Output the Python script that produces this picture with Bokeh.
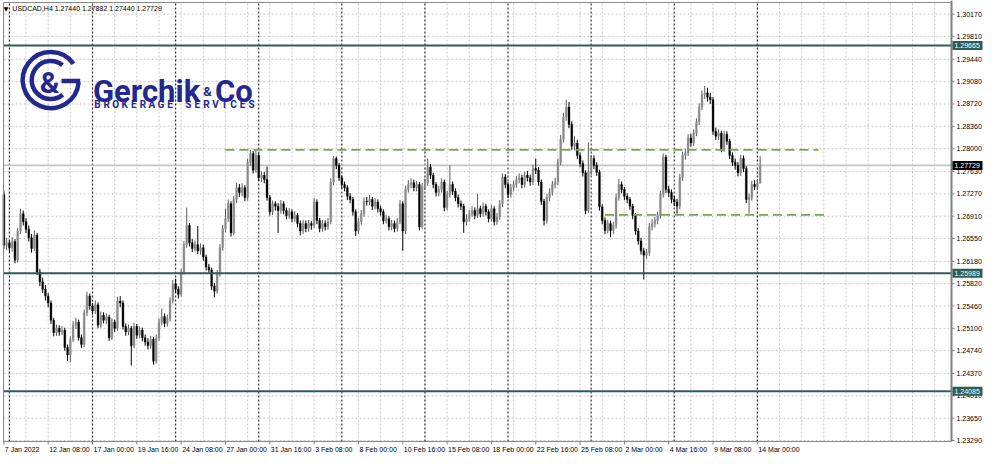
from bokeh.plotting import figure
from bokeh.models import Range1d, ColumnDataSource
from bokeh.embed import file_html
from bokeh.resources import INLINE
from bokeh.core.properties import value

# ---------------- data (USDCAD, H4) ----------------
symbol = "USDCAD,H4"
first_open = 1.2726
closes = [
    1.2644, 1.2648, 1.2640, 1.2650, 1.2620, 1.2667, 1.2695, 1.2682, 1.2670, 1.2656,
    1.2639, 1.2660, 1.2601, 1.2585, 1.2573, 1.2562, 1.2551, 1.2523, 1.2503, 1.2510,
    1.2504, 1.2507, 1.2479, 1.2467, 1.2492, 1.2515, 1.2520, 1.2495, 1.2484, 1.2535,
    1.2562, 1.2546, 1.2538, 1.2548, 1.2515, 1.2531, 1.2523, 1.2528, 1.2495, 1.2520,
    1.2510, 1.2554, 1.2551, 1.2513, 1.2504, 1.2510, 1.2482, 1.2513, 1.2499, 1.2507,
    1.2495, 1.2488, 1.2482, 1.2492, 1.2457, 1.2495, 1.2520, 1.2529, 1.2518, 1.2526,
    1.2554, 1.2582, 1.2573, 1.2565, 1.2601, 1.2645, 1.2676, 1.2648, 1.2639, 1.2645,
    1.2635, 1.2640, 1.2625, 1.2609, 1.2604, 1.2578, 1.2570, 1.2598, 1.2640, 1.2671,
    1.2687, 1.2711, 1.2664, 1.2718, 1.2737, 1.2729, 1.2737, 1.2721, 1.2778, 1.2792,
    1.2765, 1.2789, 1.2753, 1.2757, 1.2750, 1.2721, 1.2698, 1.2711, 1.2707, 1.2700,
    1.2711, 1.2700, 1.2692, 1.2698, 1.2687, 1.2692, 1.2679, 1.2667, 1.2679, 1.2671,
    1.2679, 1.2676, 1.2714, 1.2684, 1.2671, 1.2679, 1.2674, 1.2682, 1.2746, 1.2784,
    1.2773, 1.2753, 1.2742, 1.2737, 1.2723, 1.2718, 1.2698, 1.2667, 1.2682, 1.2695,
    1.2715, 1.2714, 1.2718, 1.2707, 1.2714, 1.2703, 1.2698, 1.2684, 1.2687, 1.2674,
    1.2679, 1.2671, 1.2682, 1.2711, 1.2667, 1.2734, 1.2742, 1.2745, 1.2737, 1.2742,
    1.2674, 1.2739, 1.2745, 1.2770, 1.2757, 1.2742, 1.2729, 1.2734, 1.2746, 1.2705,
    1.2726, 1.2742, 1.2731, 1.2721, 1.2711, 1.2707, 1.2682, 1.2687, 1.2695, 1.2700,
    1.2692, 1.2703, 1.2695, 1.2707, 1.2698, 1.2687, 1.2703, 1.2682, 1.2690, 1.2711,
    1.2754, 1.2742, 1.2726, 1.2737, 1.2742, 1.2750, 1.2753, 1.2742, 1.2757, 1.2753,
    1.2746, 1.2768, 1.2765, 1.2746, 1.2715, 1.2684, 1.2721, 1.2729, 1.2742, 1.2746,
    1.2778, 1.2815, 1.2851, 1.2867, 1.2839, 1.2804, 1.2809, 1.2789, 1.2776, 1.2761,
    1.2700, 1.2762, 1.2784, 1.2773, 1.2762, 1.2706, 1.2684, 1.2668, 1.2679, 1.2668,
    1.2676, 1.2721, 1.2742, 1.2734, 1.2723, 1.2718, 1.2707, 1.2692, 1.2667, 1.2651,
    1.2635, 1.2628, 1.2632, 1.2674, 1.2679, 1.2684, 1.2692, 1.2726, 1.2786, 1.2734,
    1.2729, 1.2718, 1.2714, 1.2707, 1.2753, 1.2789, 1.2793, 1.2817, 1.2809, 1.2825,
    1.2843, 1.2867, 1.2887, 1.2890, 1.2883, 1.2879, 1.2828, 1.2820, 1.2825, 1.2800,
    1.2823, 1.2812, 1.2789, 1.2778, 1.2773, 1.2761, 1.2784, 1.2768, 1.2718, 1.2721,
    1.2742, 1.2739, 1.27440, 1.27729,
]
highs = [
    1.2732, 1.2656, 1.2653, 1.2657, 1.2654, 1.2672, 1.2703, 1.2700, 1.2688, 1.2676,
    1.2662, 1.2668, 1.2664, 1.2606, 1.2592, 1.2580, 1.2567, 1.2555, 1.2527, 1.2516,
    1.2515, 1.2514, 1.2511, 1.2484, 1.2497, 1.2522, 1.2527, 1.2524, 1.2500, 1.2540,
    1.2569, 1.2566, 1.2551, 1.2555, 1.2552, 1.2537, 1.2536, 1.2534, 1.2532, 1.2526,
    1.2524, 1.2561, 1.2562, 1.2555, 1.2518, 1.2516, 1.2514, 1.2519, 1.2517, 1.2513,
    1.2511, 1.2500, 1.2494, 1.2498, 1.2496, 1.2500, 1.2526, 1.2542, 1.2534, 1.2532,
    1.2560, 1.2588, 1.2590, 1.2578, 1.2606, 1.2651, 1.2705, 1.2680, 1.2654, 1.2652,
    1.2675, 1.2647, 1.2645, 1.2629, 1.2614, 1.2608, 1.2583, 1.2604, 1.2646, 1.2677,
    1.2703, 1.2718, 1.2715, 1.2724, 1.2745, 1.2743, 1.2744, 1.2741, 1.2784, 1.2798,
    1.2796, 1.2797, 1.2793, 1.2763, 1.2762, 1.2771, 1.2725, 1.2716, 1.2715, 1.2712,
    1.2717, 1.2715, 1.2705, 1.2704, 1.2702, 1.2699, 1.2696, 1.2684, 1.2685, 1.2684,
    1.2685, 1.2683, 1.2720, 1.2718, 1.2688, 1.2685, 1.2684, 1.2688, 1.2752, 1.2788,
    1.2787, 1.2777, 1.2757, 1.2747, 1.2741, 1.2728, 1.2722, 1.2702, 1.2688, 1.2701,
    1.2721, 1.2722, 1.2725, 1.2722, 1.2720, 1.2718, 1.2708, 1.2702, 1.2693, 1.2691,
    1.2685, 1.2684, 1.2688, 1.2717, 1.2715, 1.2740, 1.2749, 1.2752, 1.2750, 1.2748,
    1.2746, 1.2745, 1.2752, 1.2784, 1.2775, 1.2761, 1.2746, 1.2740, 1.2752, 1.2750,
    1.2732, 1.2773, 1.2747, 1.2736, 1.2726, 1.2716, 1.2711, 1.2694, 1.2701, 1.2707,
    1.2705, 1.2727, 1.2708, 1.2713, 1.2711, 1.2702, 1.2709, 1.2707, 1.2696, 1.2717,
    1.2760, 1.2759, 1.2746, 1.2743, 1.2748, 1.2756, 1.2760, 1.2758, 1.2763, 1.2764,
    1.2758, 1.2774, 1.2784, 1.2770, 1.2750, 1.2719, 1.2727, 1.2736, 1.2748, 1.2753,
    1.2784, 1.2822, 1.2858, 1.2879, 1.2875, 1.2844, 1.2820, 1.2814, 1.2794, 1.2781,
    1.2765, 1.2810, 1.2790, 1.2789, 1.2778, 1.2766, 1.2710, 1.2689, 1.2685, 1.2684,
    1.2682, 1.2727, 1.2751, 1.2747, 1.2738, 1.2728, 1.2722, 1.2711, 1.2696, 1.2672,
    1.2656, 1.2640, 1.2638, 1.2680, 1.2686, 1.2690, 1.2698, 1.2732, 1.2792, 1.2790,
    1.2740, 1.2734, 1.2724, 1.2719, 1.2759, 1.2795, 1.2800, 1.2823, 1.2824, 1.2831,
    1.2849, 1.2873, 1.2894, 1.2901, 1.2898, 1.2890, 1.2883, 1.2834, 1.2831, 1.2829,
    1.2829, 1.2828, 1.2816, 1.2794, 1.2784, 1.2778, 1.2790, 1.2789, 1.2772, 1.2727,
    1.2748, 1.2749, 1.2751, 1.27882,
]
lows = [
    1.2638, 1.2636, 1.2633, 1.2634, 1.2615, 1.2616, 1.2662, 1.2676, 1.2664, 1.2650,
    1.2632, 1.2635, 1.2596, 1.2578, 1.2567, 1.2555, 1.2544, 1.2517, 1.2497, 1.2498,
    1.2498, 1.2499, 1.2474, 1.2457, 1.2455, 1.2488, 1.2509, 1.2490, 1.2478, 1.2480,
    1.2530, 1.2540, 1.2532, 1.2533, 1.2510, 1.2511, 1.2518, 1.2517, 1.2490, 1.2491,
    1.2504, 1.2506, 1.2544, 1.2508, 1.2498, 1.2499, 1.2450, 1.2478, 1.2493, 1.2494,
    1.2489, 1.2482, 1.2476, 1.2477, 1.2451, 1.2453, 1.2490, 1.2515, 1.2512, 1.2513,
    1.2521, 1.2550, 1.2567, 1.2558, 1.2561, 1.2597, 1.2640, 1.2642, 1.2633, 1.2634,
    1.2630, 1.2629, 1.2619, 1.2603, 1.2598, 1.2572, 1.2560, 1.2566, 1.2593, 1.2635,
    1.2665, 1.2682, 1.2658, 1.2660, 1.2712, 1.2722, 1.2723, 1.2715, 1.2716, 1.2772,
    1.2760, 1.2761, 1.2748, 1.2746, 1.2744, 1.2716, 1.2692, 1.2693, 1.2700, 1.2664,
    1.2695, 1.2694, 1.2686, 1.2687, 1.2681, 1.2682, 1.2673, 1.2660, 1.2662, 1.2665,
    1.2666, 1.2669, 1.2672, 1.2678, 1.2665, 1.2666, 1.2668, 1.2669, 1.2678, 1.2741,
    1.2767, 1.2748, 1.2736, 1.2731, 1.2717, 1.2712, 1.2692, 1.2659, 1.2662, 1.2677,
    1.2690, 1.2708, 1.2709, 1.2701, 1.2702, 1.2697, 1.2692, 1.2678, 1.2679, 1.2668,
    1.2668, 1.2665, 1.2666, 1.2678, 1.2635, 1.2662, 1.2729, 1.2736, 1.2731, 1.2731,
    1.2668, 1.2670, 1.2733, 1.2740, 1.2751, 1.2736, 1.2723, 1.2723, 1.2729, 1.2699,
    1.2700, 1.2721, 1.2725, 1.2715, 1.2705, 1.2701, 1.2664, 1.2676, 1.2682, 1.2690,
    1.2686, 1.2688, 1.2689, 1.2690, 1.2692, 1.2681, 1.2682, 1.2676, 1.2677, 1.2685,
    1.2706, 1.2736, 1.2720, 1.2721, 1.2731, 1.2737, 1.2744, 1.2736, 1.2737, 1.2747,
    1.2740, 1.2741, 1.2759, 1.2740, 1.2709, 1.2676, 1.2679, 1.2715, 1.2724, 1.2736,
    1.2741, 1.2773, 1.2810, 1.2845, 1.2833, 1.2798, 1.2797, 1.2783, 1.2770, 1.2755,
    1.2694, 1.2696, 1.2757, 1.2767, 1.2756, 1.2700, 1.2678, 1.2662, 1.2663, 1.2657,
    1.2662, 1.2671, 1.2716, 1.2728, 1.2717, 1.2712, 1.2701, 1.2686, 1.2661, 1.2645,
    1.2629, 1.2589, 1.2622, 1.2627, 1.2668, 1.2673, 1.2678, 1.2687, 1.2721, 1.2728,
    1.2722, 1.2712, 1.2707, 1.2695, 1.2702, 1.2748, 1.2782, 1.2788, 1.2803, 1.2804,
    1.2820, 1.2838, 1.2862, 1.2880, 1.2876, 1.2872, 1.2822, 1.2814, 1.2814, 1.2794,
    1.2795, 1.2806, 1.2783, 1.2772, 1.2766, 1.2755, 1.2756, 1.2762, 1.2712, 1.2695,
    1.2716, 1.2733, 1.2734, 1.27440,
]
# time axis labels (every 16 H4 bars) and weekly period separators (bar numbers)
x_tick_bars = [0, 16, 32, 48, 64, 80, 96, 112, 128, 144, 160, 176, 192, 208, 224, 240, 256, 272]
x_tick_labels = ["7 Jan 2022", "12 Jan 08:00", "17 Jan 00:00", "19 Jan 16:00", "24 Jan 08:00",
                 "27 Jan 00:00", "31 Jan 16:00", "3 Feb 08:00", "8 Feb 00:00", "10 Feb 16:00",
                 "15 Feb 08:00", "18 Feb 00:00", "22 Feb 16:00", "25 Feb 08:00", "2 Mar 00:00",
                 "4 Mar 16:00", "9 Mar 08:00", "14 Mar 00:00"]
week_starts = [2, 32, 62, 92, 122, 152, 182, 212, 242, 272]
y_ticks = [1.30170, 1.29810, 1.29440, 1.29080, 1.28720, 1.28360, 1.28000, 1.27630, 1.27270,
           1.26910, 1.26550, 1.26180, 1.25820, 1.25460, 1.25100, 1.24740, 1.24370, 1.24010,
           1.23650, 1.23290]
# horizontal levels
solid_levels = [1.29665, 1.25989, 1.24085]
dash_levels = [1.2798, 1.2693]
dash_start_bars = [80, 217]
dash_end_bars = [294, 297]

# ---------------- derived ----------------
n = len(closes)
bars = list(range(n))
opens = [first_open] + closes[:-1]
last_price = closes[-1]

# ---------------- layout ----------------
W, H = 984, 455
CL, CR, CT, CB = 3.0, 951.0, 2.0, 441.0          # chart box inside the canvas (px)
XA = -0.13                                        # bar at chart left edge
XB = XA + 964 / 2.817                             # bar at chart right edge
YA = 1.30170 - 441 / 6395.0                       # price at chart bottom
YB = 1.30170 + 12 / 6395.0                        # price at chart top
PPB = (CR - CL) / (XB - XA)                       # px per bar
PPU = (CB - CT) / (YB - YA)                       # px per price unit


def dx(px):
    return px / PPB


def dy(px):
    return px / PPU


def bx(rx):   # reference-picture x pixel -> bar
    return XA + (rx - 3) / 2.817


def py(ry):   # reference-picture y pixel -> price
    return 1.30170 - (ry - 14) / 6395.0


FONT = value("Liberation Sans")
BULL_BODY = "#8a8a8a"
BULL_WICK = "#5a5a5a"
BEAR = "#000000"
LOGO = "#23288f"
GRID = "#c9c9c9"
FRAME = "#8a8a8a"
TEAL = "#2e5d57"

p = figure(width=W, height=H,
           x_range=Range1d(XA - dx(CL), XB + dx(W - CR)),
           y_range=Range1d(YA - dy(H - CB), YB + dy(CT)),
           output_backend="svg", toolbar_location=None,
           x_axis_location=None, y_axis_location=None, min_border=0)
p.grid.visible = False
p.outline_line_color = None
p.background_fill_color = "white"
p.border_fill_color = "white"

# grid
grid_bars = [b for b in range(0, 343, 8) if b <= XB]
p.segment(x0=grid_bars, y0=[YA] * len(grid_bars), x1=grid_bars, y1=[YB] * len(grid_bars),
          line_color=GRID, line_dash="2 2", line_width=1)
p.segment(x0=[XA] * len(y_ticks), y0=y_ticks, x1=[XB] * len(y_ticks), y1=y_ticks,
          line_color=GRID, line_dash="2 2", line_width=1)

# weekly separators
p.segment(x0=week_starts, y0=[YA] * len(week_starts), x1=week_starts, y1=[YB] * len(week_starts),
          line_color="#333333", line_dash="2 2", line_width=1.2)

# current price line
p.segment(x0=[XA], y0=[last_price], x1=[XB], y1=[last_price], line_color="#c4c4c4", line_width=1.8)

# candles
is_bull = [c >= o for o, c in zip(opens, closes)]
src = ColumnDataSource(dict(
    x=bars, high=highs, low=lows,
    top=[max(o, c) for o, c in zip(opens, closes)],
    bottom=[min(o, c) for o, c in zip(opens, closes)],
    body=[BULL_BODY if b else BEAR for b in is_bull],
    wick=[BULL_WICK if b else BEAR for b in is_bull],
))
p.segment(x0="x", y0="high", x1="x", y1="low", line_color="wick", line_width=1, source=src)
p.vbar(x="x", width=0.66, top="top", bottom="bottom", fill_color="body",
       line_color="body", line_width=0.4, source=src)

# horizontal levels
p.segment(x0=[XA] * len(solid_levels), y0=solid_levels, x1=[XB] * len(solid_levels),
          y1=solid_levels, line_color=TEAL, line_width=2)
p.segment(x0=dash_start_bars, y0=dash_levels, x1=dash_end_bars, y1=dash_levels,
          line_color="#7ba553", line_dash="9 5", line_width=1.6)

# chart frame
p.segment(x0=[XA, XA, XA], y0=[YA, YB, YA], x1=[XB, XB, XA], y1=[YA, YB, YB],
          line_color=FRAME, line_width=1)
p.segment(x0=[XB], y0=[YA], x1=[XB], y1=[YB + dy(CT)], line_color="#808080", line_width=2)

# right price scale
p.segment(x0=[XB] * len(y_ticks), y0=y_ticks, x1=[XB + dx(3)] * len(y_ticks), y1=y_ticks,
          line_color="#808080", line_width=1)
p.text(x=[XB + dx(5)] * len(y_ticks), y=y_ticks, text=[f"{v:.5f}" for v in y_ticks],
       text_font=FONT, text_font_size="7px", text_color="#000000",
       text_align="left", text_baseline="middle")

# price tags
tag_prices = solid_levels + [last_price]
tag_colors = [TEAL] * len(solid_levels) + ["#000000"]
p.rect(x=[XB + dx(16)] * len(tag_prices), y=tag_prices, width=30, height=9,
       width_units="screen", height_units="screen", fill_color=tag_colors, line_color=None)
p.text(x=[XB + dx(3)] * len(tag_prices), y=tag_prices, text=[f"{v:.5f}" for v in tag_prices],
       text_font=FONT, text_font_size="7px", text_color="white",
       text_align="left", text_baseline="middle")

# time scale
p.segment(x0=x_tick_bars, y0=[YA] * len(x_tick_bars), x1=x_tick_bars,
          y1=[YA - dy(3)] * len(x_tick_bars), line_color="#808080", line_width=1)
p.text(x=[b + dx(1) for b in x_tick_bars], y=[YA - dy(4)] * len(x_tick_bars), text=x_tick_labels,
       text_font=FONT, text_font_size="7px", text_color="#000000",
       text_align="left", text_baseline="top")

# chart title (symbol + last bar OHLC)
title_txt = f"{symbol}  {opens[-1]:.5f} {highs[-1]:.5f} {lows[-1]:.5f} {closes[-1]:.5f}"
p.text(x=[bx(5.5)], y=[py(8)], text=["\u25bc"], text_font=value("DejaVu Sans"),
       text_font_size="6px", text_color="#000000", text_align="center", text_baseline="middle")
p.text(x=[bx(12)], y=[py(8)], text=[title_txt], text_font=FONT, text_font_size="7px",
       text_color="#000000", text_align="left", text_baseline="middle")

# ---------------- logo ----------------
cx, cy = bx(51), py(82)
p.arc(x=[cx], y=[cy], radius=28, radius_units="screen", start_angle=0.62, end_angle=6.2,
      direction="anticlock", line_color=LOGO, line_width=4.5)
p.arc(x=[cx], y=[cy], radius=19, radius_units="screen", start_angle=0.9, end_angle=5.4,
      direction="anticlock", line_color=LOGO, line_width=4.5)
p.segment(x0=[bx(62)], y0=[py(83)], x1=[bx(81)], y1=[py(83)], line_color=LOGO, line_width=4.5)
p.text(x=[bx(50)], y=[py(85)], text=["&"], text_font=value("Roboto"), text_font_style="bold",
       text_font_size="30px", text_color=LOGO, text_align="center", text_baseline="middle")
p.text(x=[bx(94)], y=[py(94)], text=["Gerchik"], text_font=value("Roboto"),
       text_font_style="bold", text_font_size="31px", text_color=LOGO,
       text_align="left", text_baseline="alphabetic")
p.text(x=[bx(206)], y=[py(94)], text=["&"], text_font=value("Roboto"),
       text_font_style="bold", text_font_size="13px", text_color=LOGO,
       text_align="left", text_baseline="alphabetic")
p.text(x=[bx(218)], y=[py(94)], text=["Co"], text_font=value("Roboto"),
       text_font_style="bold", text_font_size="31px", text_color=LOGO,
       text_align="left", text_baseline="alphabetic")
letters = list("BROKERAGE SERVICES")
step = (260 - 94) / len(letters)
p.text(x=[bx(94 + step * (i + 0.5)) for i in range(len(letters))], y=[py(107)] * len(letters),
       text=letters, text_font=value("Roboto"), text_font_style="bold",
       text_font_size="10px", text_color=LOGO, text_align="center", text_baseline="middle")

open("out.html", "w").write(file_html(p, INLINE))
